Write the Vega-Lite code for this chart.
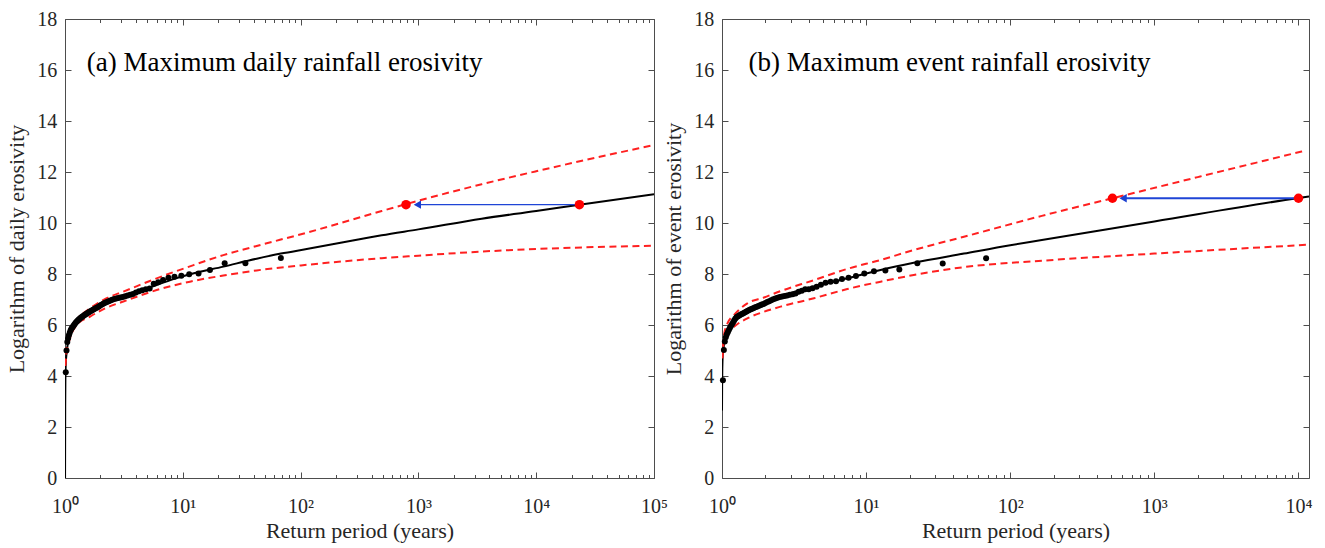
{
  "$schema": "https://vega.github.io/schema/vega-lite/v6.json",
  "padding": {"left": 5, "top": 8, "right": 5, "bottom": 2},
  "background": "white",
  "spacing": 68,
  "bounds": "flush",
  "datasets": {
    "fitA": [{"T":1.001,"y":0},{"T":1.004,"y":2.8},{"T":1.008,"y":3.9},{"T":1.015,"y":4.45},{"T":1.034,"y":4.95},{"T":1.06,"y":5.3},{"T":1.103,"y":5.61},{"T":1.17,"y":5.9},{"T":1.257,"y":6.13},{"T":1.4,"y":6.33},{"T":1.631,"y":6.52},{"T":2.26,"y":6.89},{"T":3.13,"y":7.11},{"T":4.3,"y":7.33},{"T":6.0,"y":7.57},{"T":8.2,"y":7.79},{"T":11.5,"y":7.99},{"T":22.1,"y":8.29},{"T":42.4,"y":8.6},{"T":68,"y":8.8},{"T":112.7,"y":8.98},{"T":352,"y":9.4},{"T":488,"y":9.52},{"T":1000,"y":9.75},{"T":3445,"y":10.17},{"T":10000,"y":10.47},{"T":23270,"y":10.72},{"T":100000,"y":11.13}],
    "upA": [{"T":1.004,"y":4.4},{"T":1.014,"y":4.7},{"T":1.034,"y":5.35},{"T":1.103,"y":5.74},{"T":1.257,"y":6.2},{"T":1.631,"y":6.65},{"T":2.26,"y":7.05},{"T":3.13,"y":7.31},{"T":6.0,"y":7.83},{"T":11.5,"y":8.3},{"T":22.1,"y":8.74},{"T":42.4,"y":9.1},{"T":112.7,"y":9.62},{"T":488,"y":10.47},{"T":785,"y":10.74},{"T":3445,"y":11.52},{"T":10000,"y":12.03},{"T":100000,"y":13.06}],
    "loA": [{"T":1.004,"y":4.4},{"T":1.014,"y":4.6},{"T":1.034,"y":4.95},{"T":1.103,"y":5.48},{"T":1.257,"y":6.0},{"T":1.631,"y":6.33},{"T":2.26,"y":6.68},{"T":3.13,"y":6.92},{"T":6.0,"y":7.37},{"T":11.5,"y":7.7},{"T":22.1,"y":7.94},{"T":42.4,"y":8.14},{"T":112.7,"y":8.36},{"T":488,"y":8.62},{"T":1000,"y":8.72},{"T":3445,"y":8.88},{"T":10000,"y":8.98},{"T":100000,"y":9.11}],
    "ptsA": [{"T":68,"y":8.63},{"T":34,"y":8.42},{"T":22.667,"y":8.42},{"T":17,"y":8.16},{"T":13.6,"y":8.02},{"T":11.333,"y":7.99},{"T":9.714,"y":7.93},{"T":8.5,"y":7.89},{"T":7.556,"y":7.85},{"T":6.8,"y":7.76},{"T":6.182,"y":7.68},{"T":5.667,"y":7.62},{"T":5.231,"y":7.43},{"T":4.857,"y":7.4},{"T":4.533,"y":7.36},{"T":4.25,"y":7.32},{"T":4.0,"y":7.27},{"T":3.778,"y":7.22},{"T":3.579,"y":7.19},{"T":3.4,"y":7.16},{"T":3.238,"y":7.13},{"T":3.091,"y":7.1},{"T":2.957,"y":7.08},{"T":2.833,"y":7.06},{"T":2.72,"y":7.04},{"T":2.615,"y":7.02},{"T":2.519,"y":6.99},{"T":2.429,"y":6.96},{"T":2.345,"y":6.93},{"T":2.267,"y":6.9},{"T":2.194,"y":6.87},{"T":2.125,"y":6.84},{"T":2.061,"y":6.8},{"T":2.0,"y":6.77},{"T":1.943,"y":6.73},{"T":1.889,"y":6.7},{"T":1.838,"y":6.67},{"T":1.789,"y":6.64},{"T":1.744,"y":6.61},{"T":1.7,"y":6.58},{"T":1.659,"y":6.55},{"T":1.619,"y":6.52},{"T":1.581,"y":6.49},{"T":1.545,"y":6.46},{"T":1.511,"y":6.43},{"T":1.478,"y":6.4},{"T":1.447,"y":6.37},{"T":1.417,"y":6.34},{"T":1.388,"y":6.31},{"T":1.36,"y":6.28},{"T":1.333,"y":6.25},{"T":1.308,"y":6.22},{"T":1.283,"y":6.18},{"T":1.259,"y":6.14},{"T":1.236,"y":6.1},{"T":1.214,"y":6.05},{"T":1.193,"y":6.0},{"T":1.172,"y":5.95},{"T":1.153,"y":5.9},{"T":1.133,"y":5.85},{"T":1.115,"y":5.78},{"T":1.097,"y":5.7},{"T":1.079,"y":5.6},{"T":1.0625,"y":5.48},{"T":1.046,"y":5.33},{"T":1.03,"y":5.0},{"T":1.015,"y":4.15}],
    "redA": [{"T":785,"y":10.72},{"T":23270,"y":10.72}],
    "arrA": [{"T":23270,"y":10.72},{"T":1000,"y":10.72}],
    "headA": [{"T":980,"y":10.72}],
    "labA": [{"T":1.528,"y":15.98,"label":"(a) Maximum daily rainfall erosivity"}],
    "fitB": [{"T":1.0,"y":2.65},{"T":1.002,"y":3.6},{"T":1.005,"y":4.3},{"T":1.012,"y":4.8},{"T":1.032,"y":5.2},{"T":1.06,"y":5.5},{"T":1.089,"y":5.74},{"T":1.15,"y":6.0},{"T":1.211,"y":6.2},{"T":1.35,"y":6.42},{"T":1.499,"y":6.59},{"T":1.956,"y":6.85},{"T":2.55,"y":7.11},{"T":4.35,"y":7.5},{"T":7.4,"y":7.83},{"T":12.6,"y":8.16},{"T":21.4,"y":8.44},{"T":47.7,"y":8.8},{"T":100,"y":9.13},{"T":165.7,"y":9.33},{"T":1000,"y":10.06},{"T":10000,"y":10.98},{"T":11830,"y":11.04}],
    "upB": [{"T":1.004,"y":4.7},{"T":1.032,"y":5.6},{"T":1.089,"y":6.05},{"T":1.211,"y":6.39},{"T":1.499,"y":6.85},{"T":1.956,"y":7.08},{"T":2.55,"y":7.33},{"T":4.35,"y":7.76},{"T":7.4,"y":8.2},{"T":12.6,"y":8.55},{"T":21.4,"y":8.94},{"T":47.7,"y":9.46},{"T":165.7,"y":10.28},{"T":512,"y":10.97},{"T":2000,"y":11.8},{"T":10820,"y":12.82}],
    "loB": [{"T":1.004,"y":4.7},{"T":1.032,"y":5.35},{"T":1.089,"y":5.65},{"T":1.211,"y":5.93},{"T":1.499,"y":6.26},{"T":1.956,"y":6.52},{"T":2.55,"y":6.72},{"T":4.35,"y":7.05},{"T":7.4,"y":7.41},{"T":12.6,"y":7.7},{"T":21.4,"y":7.96},{"T":47.7,"y":8.27},{"T":165.7,"y":8.52},{"T":1000,"y":8.8},{"T":11830,"y":9.15}],
    "ptsB": [{"T":68,"y":8.62},{"T":34,"y":8.41},{"T":22.667,"y":8.42},{"T":17,"y":8.18},{"T":13.6,"y":8.14},{"T":11.333,"y":8.11},{"T":9.714,"y":8.02},{"T":8.5,"y":7.92},{"T":7.556,"y":7.85},{"T":6.8,"y":7.8},{"T":6.182,"y":7.72},{"T":5.667,"y":7.7},{"T":5.231,"y":7.66},{"T":4.857,"y":7.58},{"T":4.533,"y":7.5},{"T":4.25,"y":7.44},{"T":4.0,"y":7.4},{"T":3.778,"y":7.4},{"T":3.579,"y":7.34},{"T":3.4,"y":7.3},{"T":3.238,"y":7.24},{"T":3.091,"y":7.21},{"T":2.957,"y":7.19},{"T":2.833,"y":7.16},{"T":2.72,"y":7.14},{"T":2.615,"y":7.12},{"T":2.519,"y":7.1},{"T":2.429,"y":7.07},{"T":2.345,"y":7.04},{"T":2.267,"y":7.01},{"T":2.194,"y":6.97},{"T":2.125,"y":6.93},{"T":2.061,"y":6.9},{"T":2.0,"y":6.86},{"T":1.943,"y":6.82},{"T":1.889,"y":6.8},{"T":1.838,"y":6.77},{"T":1.789,"y":6.75},{"T":1.744,"y":6.72},{"T":1.7,"y":6.7},{"T":1.659,"y":6.67},{"T":1.619,"y":6.64},{"T":1.581,"y":6.62},{"T":1.545,"y":6.59},{"T":1.511,"y":6.56},{"T":1.478,"y":6.53},{"T":1.447,"y":6.5},{"T":1.417,"y":6.47},{"T":1.388,"y":6.44},{"T":1.36,"y":6.42},{"T":1.333,"y":6.39},{"T":1.308,"y":6.36},{"T":1.283,"y":6.33},{"T":1.259,"y":6.3},{"T":1.236,"y":6.25},{"T":1.214,"y":6.18},{"T":1.193,"y":6.1},{"T":1.172,"y":6.03},{"T":1.153,"y":5.96},{"T":1.133,"y":5.88},{"T":1.115,"y":5.8},{"T":1.097,"y":5.72},{"T":1.079,"y":5.63},{"T":1.0625,"y":5.52},{"T":1.046,"y":5.35},{"T":1.03,"y":5.02},{"T":1.015,"y":3.83}],
    "redB": [{"T":512,"y":10.97},{"T":10000,"y":10.97}],
    "arrB": [{"T":10000,"y":10.97},{"T":620,"y":10.97}],
    "headB": [{"T":607,"y":10.97}],
    "labB": [{"T":1.528,"y":15.98,"label":"(b) Maximum event rainfall erosivity"}]
  },
  "hconcat": [
    {
      "width": 589,
      "height": 459,
      "layer": [
        {
          "data": {"name": "fitA"},
          "mark": {"type": "line", "color": "#000000", "strokeWidth": 2, "clip": true, "interpolate": "monotone"},
          "encoding": {
            "x": {"field": "T", "type": "quantitative", "scale": {"type": "log", "domain": [1, 100000], "nice": false},
              "axis": {"orient": "bottom", "values": [1,2,3,4,5,6,7,8,9,10,20,30,40,50,60,70,80,90,100,200,300,400,500,600,700,800,900,1000,2000,3000,4000,5000,6000,7000,8000,9000,10000,20000,30000,40000,50000,60000,70000,80000,90000,100000],
                "labelExpr": "datum.value==1?'10⁰':datum.value==10?'10¹':datum.value==100?'10²':datum.value==1000?'10³':datum.value==10000?'10⁴':datum.value==100000?'10⁵':''",
                "tickSize": {"condition": {"test": "indexof([1,10,100,1000,10000,100000], datum.value) >= 0", "value": -6}, "value": -3.5},
                "domain": false, "grid": false, "labelFlush": false, "labelOverlap": false, "labelPadding": 24.6,
                "title": "Return period (years)", "titlePadding": 1}},
            "y": {"field": "y", "type": "quantitative", "scale": {"domain": [0, 18], "nice": false},
              "axis": {"orient": "left", "values": [0,2,4,6,8,10,12,14,16,18], "tickSize": -6, "domain": false, "grid": false, "labelPadding": 14.3,
                "title": "Logarithm of daily erosivity", "titlePadding": 8}}
          }
        },
        {
          "data": {"name": "upA"},
          "mark": {"type": "line", "color": "#ff2020", "strokeWidth": 2, "strokeDash": [7, 4.5], "clip": true, "interpolate": "monotone"},
          "encoding": {
            "x": {"field": "T", "type": "quantitative", "scale": {"type": "log", "domain": [1, 100000], "nice": false},
              "axis": {"orient": "top", "values": [1,2,3,4,5,6,7,8,9,10,20,30,40,50,60,70,80,90,100,200,300,400,500,600,700,800,900,1000,2000,3000,4000,5000,6000,7000,8000,9000,10000,20000,30000,40000,50000,60000,70000,80000,90000,100000],
                "labels": false,
                "tickSize": {"condition": {"test": "indexof([1,10,100,1000,10000,100000], datum.value) >= 0", "value": -6}, "value": -3.5},
                "domain": false, "grid": false, "title": null}},
            "y": {"field": "y", "type": "quantitative", "scale": {"domain": [0, 18], "nice": false},
              "axis": {"orient": "right", "values": [0,2,4,6,8,10,12,14,16,18], "tickSize": -6, "labels": false, "domain": false, "grid": false, "title": null}}
          }
        },
        {
          "data": {"name": "loA"},
          "mark": {"type": "line", "color": "#ff2020", "strokeWidth": 2, "strokeDash": [7, 4.5], "clip": true, "interpolate": "monotone"},
          "encoding": {
            "x": {"field": "T", "type": "quantitative", "scale": {"type": "log", "domain": [1, 100000], "nice": false}, "axis": null},
            "y": {"field": "y", "type": "quantitative", "scale": {"domain": [0, 18], "nice": false}, "axis": null}
          }
        },
        {
          "data": {"name": "ptsA"},
          "mark": {"type": "circle", "color": "#000000", "size": 36, "opacity": 1},
          "encoding": {
            "x": {"field": "T", "type": "quantitative", "scale": {"type": "log", "domain": [1, 100000], "nice": false}, "axis": null},
            "y": {"field": "y", "type": "quantitative", "scale": {"domain": [0, 18], "nice": false}, "axis": null}
          }
        },
        {
          "data": {"name": "arrA"},
          "mark": {"type": "line", "color": "#1f45d6", "strokeWidth": 1.3},
          "encoding": {
            "x": {"field": "T", "type": "quantitative", "scale": {"type": "log", "domain": [1, 100000], "nice": false}, "axis": null},
            "y": {"field": "y", "type": "quantitative", "scale": {"domain": [0, 18], "nice": false}, "axis": null}
          }
        },
        {
          "data": {"name": "headA"},
          "mark": {"type": "point", "shape": "triangle-left", "filled": true, "color": "#1a3fd0", "size": 70, "opacity": 1},
          "encoding": {
            "x": {"field": "T", "type": "quantitative", "scale": {"type": "log", "domain": [1, 100000], "nice": false}, "axis": null},
            "y": {"field": "y", "type": "quantitative", "scale": {"domain": [0, 18], "nice": false}, "axis": null}
          }
        },
        {
          "data": {"name": "redA"},
          "mark": {"type": "circle", "color": "#ff0000", "size": 90, "opacity": 1},
          "encoding": {
            "x": {"field": "T", "type": "quantitative", "scale": {"type": "log", "domain": [1, 100000], "nice": false}, "axis": null},
            "y": {"field": "y", "type": "quantitative", "scale": {"domain": [0, 18], "nice": false}, "axis": null}
          }
        },
        {
          "data": {"name": "labA"},
          "mark": {"type": "text", "align": "left", "baseline": "alphabetic", "fontSize": 27, "font": "Liberation Serif", "color": "#000000"},
          "encoding": {
            "x": {"field": "T", "type": "quantitative", "scale": {"type": "log", "domain": [1, 100000], "nice": false}, "axis": null},
            "y": {"field": "y", "type": "quantitative", "scale": {"domain": [0, 18], "nice": false}, "axis": null},
            "text": {"field": "label"}
          }
        }
      ],
      "resolve": {"axis": {"x": "independent", "y": "independent"}}
    },
    {
      "width": 587,
      "height": 459,
      "layer": [
        {
          "data": {"name": "fitB"},
          "mark": {"type": "line", "color": "#000000", "strokeWidth": 2, "clip": true, "interpolate": "monotone"},
          "encoding": {
            "x": {"field": "T", "type": "quantitative", "scale": {"type": "log", "domain": [1, 11830], "nice": false},
              "axis": {"orient": "bottom", "values": [1,2,3,4,5,6,7,8,9,10,20,30,40,50,60,70,80,90,100,200,300,400,500,600,700,800,900,1000,2000,3000,4000,5000,6000,7000,8000,9000,10000],
                "labelExpr": "datum.value==1?'10⁰':datum.value==10?'10¹':datum.value==100?'10²':datum.value==1000?'10³':datum.value==10000?'10⁴':''",
                "tickSize": {"condition": {"test": "indexof([1,10,100,1000,10000], datum.value) >= 0", "value": -6}, "value": -3.5},
                "domain": false, "grid": false, "labelFlush": false, "labelOverlap": false, "labelPadding": 24.6,
                "title": "Return period (years)", "titlePadding": 1}},
            "y": {"field": "y", "type": "quantitative", "scale": {"domain": [0, 18], "nice": false},
              "axis": {"orient": "left", "values": [0,2,4,6,8,10,12,14,16,18], "tickSize": -6, "domain": false, "grid": false, "labelPadding": 14.3,
                "title": "Logarithm of event erosivity", "titlePadding": 8}}
          }
        },
        {
          "data": {"name": "upB"},
          "mark": {"type": "line", "color": "#ff2020", "strokeWidth": 2, "strokeDash": [7, 4.5], "clip": true, "interpolate": "monotone"},
          "encoding": {
            "x": {"field": "T", "type": "quantitative", "scale": {"type": "log", "domain": [1, 11830], "nice": false},
              "axis": {"orient": "top", "values": [1,2,3,4,5,6,7,8,9,10,20,30,40,50,60,70,80,90,100,200,300,400,500,600,700,800,900,1000,2000,3000,4000,5000,6000,7000,8000,9000,10000],
                "labels": false,
                "tickSize": {"condition": {"test": "indexof([1,10,100,1000,10000], datum.value) >= 0", "value": -6}, "value": -3.5},
                "domain": false, "grid": false, "title": null}},
            "y": {"field": "y", "type": "quantitative", "scale": {"domain": [0, 18], "nice": false},
              "axis": {"orient": "right", "values": [0,2,4,6,8,10,12,14,16,18], "tickSize": -6, "labels": false, "domain": false, "grid": false, "title": null}}
          }
        },
        {
          "data": {"name": "loB"},
          "mark": {"type": "line", "color": "#ff2020", "strokeWidth": 2, "strokeDash": [7, 4.5], "clip": true, "interpolate": "monotone"},
          "encoding": {
            "x": {"field": "T", "type": "quantitative", "scale": {"type": "log", "domain": [1, 11830], "nice": false}, "axis": null},
            "y": {"field": "y", "type": "quantitative", "scale": {"domain": [0, 18], "nice": false}, "axis": null}
          }
        },
        {
          "data": {"name": "ptsB"},
          "mark": {"type": "circle", "color": "#000000", "size": 36, "opacity": 1},
          "encoding": {
            "x": {"field": "T", "type": "quantitative", "scale": {"type": "log", "domain": [1, 11830], "nice": false}, "axis": null},
            "y": {"field": "y", "type": "quantitative", "scale": {"domain": [0, 18], "nice": false}, "axis": null}
          }
        },
        {
          "data": {"name": "arrB"},
          "mark": {"type": "line", "color": "#1f45d6", "strokeWidth": 2},
          "encoding": {
            "x": {"field": "T", "type": "quantitative", "scale": {"type": "log", "domain": [1, 11830], "nice": false}, "axis": null},
            "y": {"field": "y", "type": "quantitative", "scale": {"domain": [0, 18], "nice": false}, "axis": null}
          }
        },
        {
          "data": {"name": "headB"},
          "mark": {"type": "point", "shape": "triangle-left", "filled": true, "color": "#1a3fd0", "size": 70, "opacity": 1},
          "encoding": {
            "x": {"field": "T", "type": "quantitative", "scale": {"type": "log", "domain": [1, 11830], "nice": false}, "axis": null},
            "y": {"field": "y", "type": "quantitative", "scale": {"domain": [0, 18], "nice": false}, "axis": null}
          }
        },
        {
          "data": {"name": "redB"},
          "mark": {"type": "circle", "color": "#ff0000", "size": 90, "opacity": 1},
          "encoding": {
            "x": {"field": "T", "type": "quantitative", "scale": {"type": "log", "domain": [1, 11830], "nice": false}, "axis": null},
            "y": {"field": "y", "type": "quantitative", "scale": {"domain": [0, 18], "nice": false}, "axis": null}
          }
        },
        {
          "data": {"name": "labB"},
          "mark": {"type": "text", "align": "left", "baseline": "alphabetic", "fontSize": 27, "font": "Liberation Serif", "color": "#000000"},
          "encoding": {
            "x": {"field": "T", "type": "quantitative", "scale": {"type": "log", "domain": [1, 11830], "nice": false}, "axis": null},
            "y": {"field": "y", "type": "quantitative", "scale": {"domain": [0, 18], "nice": false}, "axis": null},
            "text": {"field": "label"}
          }
        }
      ],
      "resolve": {"axis": {"x": "independent", "y": "independent"}}
    }
  ],
  "config": {
    "font": "Liberation Serif",
    "view": {"stroke": "#4d4d4d", "strokeWidth": 1},
    "axis": {
      "labelFont": "Liberation Serif", "labelFontSize": 20, "labelColor": "#262626",
      "titleFont": "Liberation Serif", "titleFontSize": 22, "titleFontWeight": "normal", "titleColor": "#262626",
      "tickColor": "#4d4d4d", "tickWidth": 1
    }
  }
}
